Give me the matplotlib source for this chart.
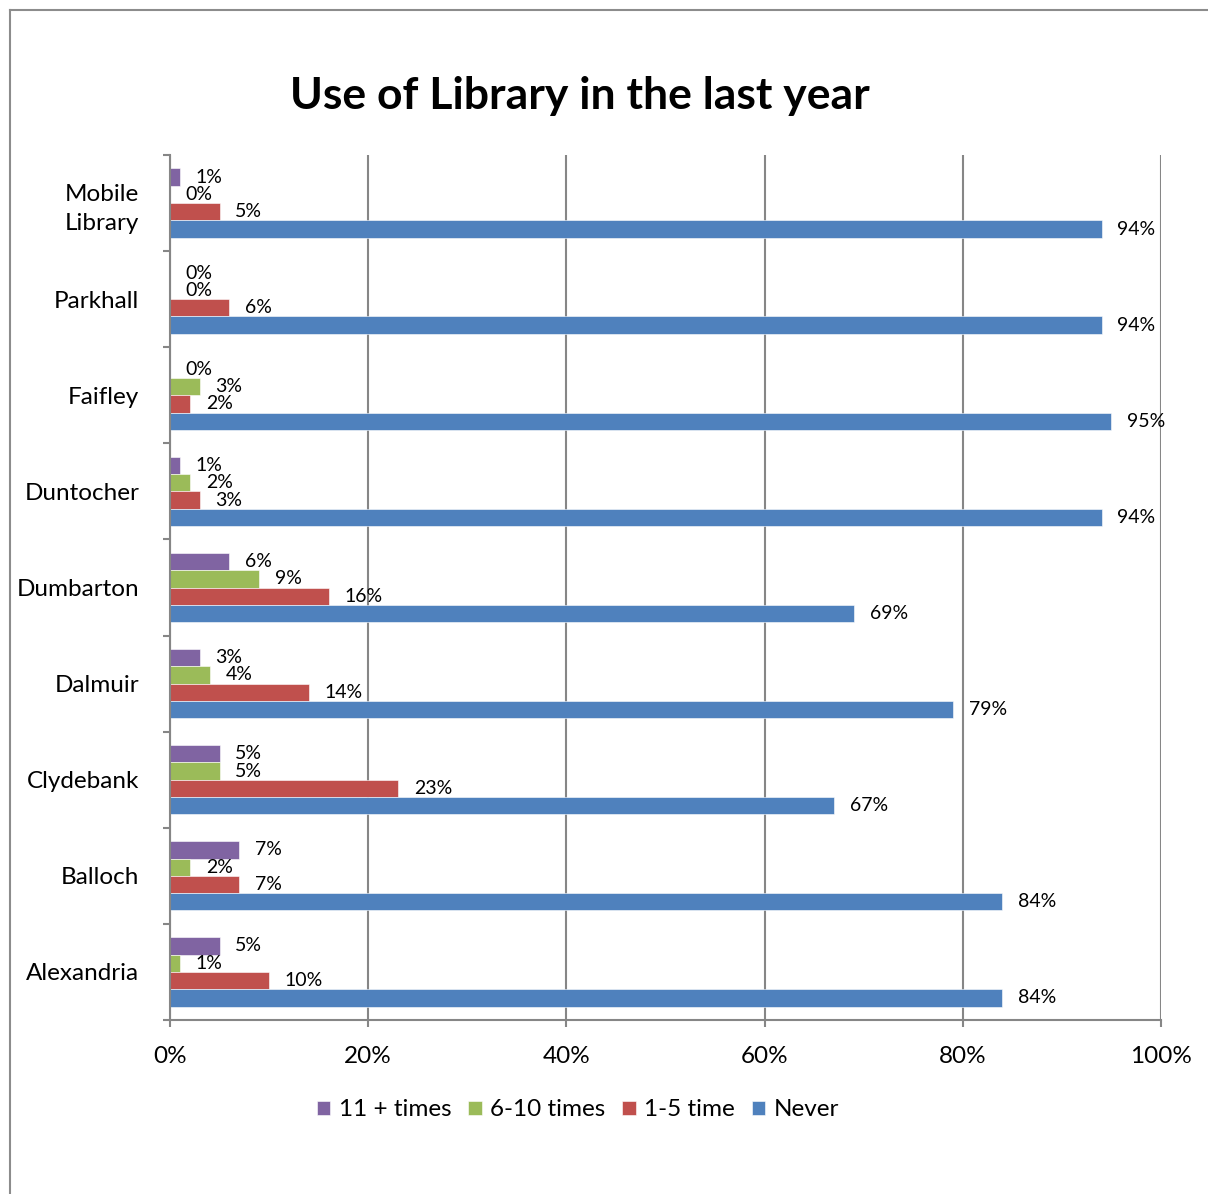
import matplotlib.pyplot as plt
import numpy as np
from matplotlib.lines import Line2D

plt.rcParams['font.family'] = ['Lato', 'DejaVu Sans']

categories = ["Mobile\nLibrary", "Parkhall", "Faifley", "Duntocher", "Dumbarton",
              "Dalmuir", "Clydebank", "Balloch", "Alexandria"]
series_names = ["11 + times", "6-10 times", "1-5 time", "Never"]
eleven_plus = [1, 0, 0, 1, 6, 3, 5, 7, 5]
six_ten = [0, 0, 3, 2, 9, 4, 5, 2, 1]
one_five = [5, 6, 2, 3, 16, 14, 23, 7, 10]
never = [94, 94, 95, 94, 69, 79, 67, 84, 84]
colors = ["#8064A2", "#9BBB59", "#C0504D", "#4F81BD"]

fs = 17.5
grid_col = "#868686"

fig = plt.figure(figsize=(12.08, 11.94), dpi=100)
ax = fig.add_axes([170 / 1208, 1 - 1020 / 1194, (1161 - 170) / 1208, (1020 - 155) / 1194])

# chart border (only top and left visible in the crop)
fig.add_artist(Line2D([10 / 1208, 10 / 1208], [0, 1 - 10 / 1194], transform=fig.transFigure,
                      color="#8c8c8c", lw=1.5))
fig.add_artist(Line2D([10 / 1208, 1], [1 - 10 / 1194, 1 - 10 / 1194], transform=fig.transFigure,
                      color="#8c8c8c", lw=1.5))

y = np.arange(len(categories))
bh = 0.18
data = [eleven_plus, six_ten, one_five, never]
for i, (vals, col, name) in enumerate(zip(data, colors, series_names)):
    yy = y + (i - 1.5) * bh
    ax.barh(yy, vals, height=bh, color=col, label=name, edgecolor="white", linewidth=0.4, zorder=2)
    for yv, v in zip(yy, vals):
        ax.text(v + 1.6, yv, f"{v}%", va="center", ha="left", fontsize=14, zorder=3)

ax.set_xlim(0, 100)
ax.set_ylim(len(categories) - 0.5, -0.5)
ax.set_xticks([0, 20, 40, 60, 80, 100])
ax.set_xticklabels([f"{t}%" for t in [0, 20, 40, 60, 80, 100]], fontsize=fs)
ax.set_yticks(y)
ax.set_yticklabels(categories, fontsize=fs, multialignment="center", linespacing=1.45)
ax.tick_params(axis="y", length=0, pad=22)
ax.set_yticks(np.arange(-0.5, len(categories)), minor=True)
ax.tick_params(axis="y", which="minor", length=5, color=grid_col, width=1.5)
ax.tick_params(axis="x", length=5, color=grid_col, width=1.5, pad=14)

ax.grid(axis="x", color=grid_col, lw=1.5, zorder=0)
for s in ["top", "right"]:
    ax.spines[s].set_visible(False)
for s in ["left", "bottom"]:
    ax.spines[s].set_color(grid_col)
    ax.spines[s].set_linewidth(1.5)

fig.text(580 / 1208, 1 - 96 / 1194, "Use of Library in the last year", ha="center", va="center",
         fontsize=32, fontweight="bold")

fig.legend(loc="center", bbox_to_anchor=(578 / 1208, 1 - 1110 / 1194), ncol=4, frameon=False,
           fontsize=fs, handlelength=0.55, handleheight=0.55, handletextpad=0.35,
           columnspacing=0.7)

fig.savefig("out.png", dpi=100)
